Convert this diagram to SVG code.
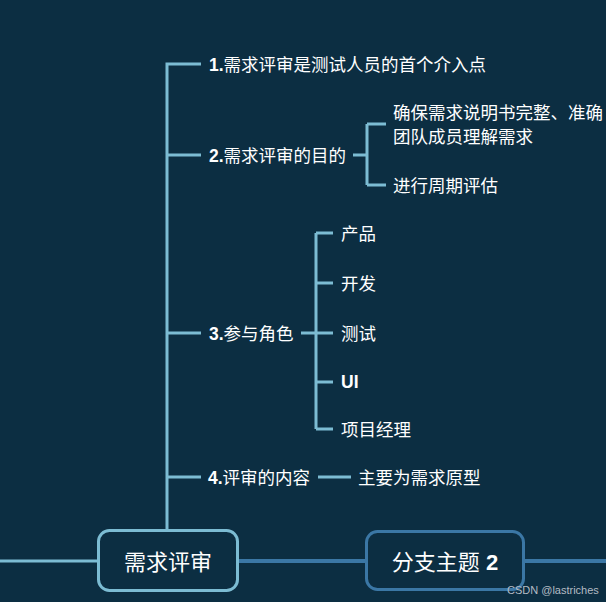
<svg xmlns="http://www.w3.org/2000/svg" width="606" height="602" viewBox="0 0 606 602">
<style>
.t{font-family:"Liberation Sans","Noto Sans CJK SC",sans-serif;font-size:17.5px;fill:#ffffff;dominant-baseline:central}
.n{font-weight:bold}
.c{stroke:#7cbcd3;stroke-width:3;fill:none}
.d{stroke:#3b77a5;stroke-width:4;fill:none}
.big{font-family:"Liberation Sans","Noto Sans CJK SC",sans-serif;font-size:22px;fill:#ffffff;dominant-baseline:central;text-anchor:middle}
.wm{font-family:"Liberation Sans","Noto Sans",sans-serif;font-size:11px;fill:#b4bcc4}
</style>
<rect width="606" height="602" fill="#0c2e42"/>
<g id="connectors">
<path class="c" d="M0 561H98"/>
<path class="d" d="M238 561H366M524 561H606"/>
<path class="c" d="M167 530V64H201M167 155H201M167 333H201M167 477H201"/>
<path class="c" d="M353 155H367M367 124V185M367 124H386M367 185H386"/>
<path class="c" d="M301 333H316M316 233V429M316 233H333M316 283H333M316 333H333M316 382H333M316 429H333"/>
<path class="c" d="M318 477H351"/>
</g>
<g id="root">
<rect x="98.5" y="530.5" width="139" height="60" rx="11" fill="#0c2e42" stroke="#7cbcd3" stroke-width="3"/>
<text class="big" x="168" y="562">需求评审</text>
</g>
<g id="branch2">
<rect x="366.5" y="531.5" width="157" height="58" rx="11" fill="#0c2e42" stroke="#3b77a5" stroke-width="3"/>
<text class="big" x="445" y="562">分支主题 <tspan class="n">2</tspan></text>
</g>
<g id="n1"><text class="t" x="209" y="65"><tspan class="n">1.</tspan>需求评审是测试人员的首个介入点</text></g>
<g id="n2"><text class="t" x="209" y="156"><tspan class="n">2.</tspan>需求评审的目的</text></g>
<g id="n2a"><text class="t" x="393" y="113">确保需求说明书完整、准确</text><text class="t" x="393" y="137">团队成员理解需求</text></g>
<g id="n2b"><text class="t" x="393" y="186">进行周期评估</text></g>
<g id="n3"><text class="t" x="209" y="334"><tspan class="n">3.</tspan>参与角色</text></g>
<g id="n3a"><text class="t" x="341" y="234">产品</text></g>
<g id="n3b"><text class="t" x="341" y="284">开发</text></g>
<g id="n3c"><text class="t" x="341" y="334">测试</text></g>
<g id="n3d"><text class="t n" x="341" y="382">UI</text></g>
<g id="n3e"><text class="t" x="341" y="430">项目经理</text></g>
<g id="n4"><text class="t" x="208" y="478"><tspan class="n">4.</tspan>评审的内容</text></g>
<g id="n4a"><text class="t" x="358" y="478">主要为需求原型</text></g>
<text class="wm" x="507" y="594">CSDN @lastriches</text>
</svg>
